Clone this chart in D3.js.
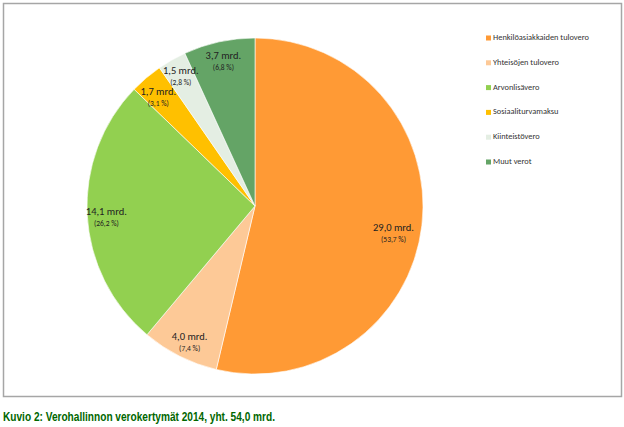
<!DOCTYPE html>
<html>
<head>
<meta charset="utf-8">
<script src="https://cdn.jsdelivr.net/npm/d3@7"></script>
<style>
  body { margin: 0; background: #fff; }
</style>
</head>
<body>
<div id="chart"></div>
<script>
// data (mrd. euros and share of total)
var categories = ["Henkilöasiakkaiden tulovero", "Yhteisöjen tulovero", "Arvonlisävero",
                  "Sosiaaliturvamaksu", "Kiinteistövero", "Muut verot"];
var amounts = [29.0, 4.0, 14.1, 1.7, 1.5, 3.7];
var shares = [53.7, 7.4, 26.2, 3.1, 2.8, 6.8];
var colors = ["#FF9A35", "#FDC997", "#92D050", "#FFC000", "#E4EEE3", "#64A466"];
var caption = "Kuvio 2: Verohallinnon verokertymät 2014, yht. 54,0 mrd.";

var W = 624, H = 427;
var cx = 255, cy = 206, r = 168;

// small label nudges (Excel "best fit" doesn't sit exactly on the centroid)
var nudge = [[0, 10], [1, 3], [-1, 2], [-1, 3], [-1, -3], [0, -2]];

var svg = d3.select("#chart").append("svg")
  .attr("width", W).attr("height", H);

// frame
svg.append("rect")
  .attr("x", 3.5).attr("y", 3.5)
  .attr("width", 618).attr("height", 393)
  .style("fill", "#fff").style("stroke", "#a6a6a6").style("stroke-width", 1.5);

var fmt = function(v) { return d3.format(".1f")(v).replace(".", ","); };

var data = categories.map(function(c, i) {
  return {name: c, value: amounts[i], share: shares[i], color: colors[i]};
});

var pie = d3.pie().sort(null).value(function(d) { return d.value; });
var arc = d3.arc().innerRadius(0).outerRadius(r);
var labelArc = d3.arc().innerRadius(r * 0.88).outerRadius(r * 0.88);
var bigLabelArc = d3.arc().innerRadius(r * 0.83).outerRadius(r * 0.83);

var g = svg.append("g").attr("transform", "translate(" + cx + "," + cy + ")");

g.selectAll("path.slice")
  .data(pie(data)).enter()
  .append("path")
    .attr("class", "slice")
    .attr("d", arc)
    .style("fill", function(d) { return d.data.color; })
    .style("stroke", "#fff")
    .style("stroke-width", 0.6);

var labels = g.selectAll("g.lbl")
  .data(pie(data)).enter()
  .append("g")
    .attr("class", "lbl")
    .attr("transform", function(d, i) {
      var c = (i == 0 ? bigLabelArc : labelArc).centroid(d);
      return "translate(" + (c[0] + nudge[i][0]) + "," + (c[1] + nudge[i][1]) + ")";
    });

labels.append("text")
  .attr("text-anchor", "middle")
  .attr("y", -1)
  .style("font-family", "Carlito, Calibri, 'Liberation Sans', sans-serif")
  .style("font-size", "10.5px")
  .style("fill", "#222")
  .text(function(d) { return fmt(d.data.value) + " mrd."; });

labels.append("text")
  .attr("text-anchor", "middle")
  .attr("y", 10)
  .style("font-family", "Carlito, Calibri, 'Liberation Sans', sans-serif")
  .style("font-size", "7.5px")
  .style("fill", "#222")
  .text(function(d) { return "(" + fmt(d.data.share) + " %)"; });

// legend
var legend = svg.append("g").attr("transform", "translate(486,38)");
data.forEach(function(d, i) {
  legend.append("rect")
    .attr("x", 0).attr("y", i * 24.8 - 2.5)
    .attr("width", 5).attr("height", 5)
    .style("fill", d.color);
  legend.append("text")
    .attr("x", 7).attr("y", i * 24.8)
    .attr("dominant-baseline", "middle")
    .style("font-family", "Carlito, Calibri, 'Liberation Sans', sans-serif")
    .style("font-size", "8.4px")
    .style("fill", "#333")
    .text(d.name);
});

// caption (condensed bold, squeezed to the original width)
svg.append("text")
  .attr("x", 3).attr("y", 421)
  .attr("textLength", 272)
  .attr("lengthAdjust", "spacingAndGlyphs")
  .style("font-family", "'Liberation Sans', Arial, sans-serif")
  .style("font-weight", "bold")
  .style("font-size", "13px")
  .style("fill", "#006600")
  .text(caption);
</script>
</body>
</html>
